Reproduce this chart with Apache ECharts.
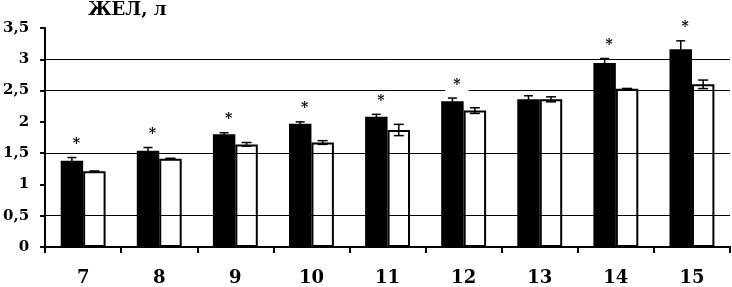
<!DOCTYPE html>
<html>
<head>
<meta charset="utf-8">
<script src="https://cdn.jsdelivr.net/npm/echarts@6/dist/echarts.min.js"></script>
<style>
  html, body { margin: 0; padding: 0; background: #fff; }
  #chart { width: 732px; height: 287px; }
</style>
</head>
<body>
<div id="chart"></div>
<script>
// age groups, years
var ages = ['7', '8', '9', '10', '11', '12', '13', '14', '15']
// black bars and their errors
var darkMean = [1.38, 1.54, 1.80, 1.97, 2.08, 2.33, 2.36, 2.94, 3.16]
var darkErr = [0.05, 0.05, 0.026, 0.03, 0.04, 0.05, 0.057, 0.073, 0.135]
// white bars and their errors
var lightMean = [1.21, 1.41, 1.64, 1.67, 1.87, 2.18, 2.36, 2.53, 2.60]
var lightErr = [0.004, 0.008, 0.03, 0.03, 0.09, 0.045, 0.04, 0.004, 0.068]
// significant difference marks
var signif = [1, 1, 1, 1, 1, 1, 0, 1, 1]
// horizontal reference lines drawn in the source
var refLines = [0.5, 1.5, 2.5, 3]

var BAR_SHARE = 0.295

var chart = echarts.init(document.getElementById('chart'))

var errData = ages.map(function (a, i) {
  return [i, darkMean[i], darkErr[i], lightMean[i], lightErr[i], signif[i]]
})

function errorBar (x, y0, y1, cap, children) {
  var st = { stroke: '#000', lineWidth: 1.5 }
  children.push({ type: 'line', shape: { x1: x, y1: y0, x2: x, y2: y1 }, style: st })
  children.push({ type: 'line', shape: { x1: x - cap, y1: y0, x2: x + cap, y2: y0 }, style: st })
  children.push({ type: 'line', shape: { x1: x - cap, y1: y1, x2: x + cap, y2: y1 }, style: st })
}

function renderErr (params, api) {
  var i = api.value(0)
  var band = api.size([1, 0])[0]
  var bw = band * BAR_SHARE
  var c = api.coord([i, 0])[0]
  var xd = c - bw / 2
  var xl = c + bw / 2
  var kids = []
  var dTop = api.coord([i, api.value(1) + api.value(2)])[1]
  var dBot = api.coord([i, api.value(1) - api.value(2)])[1]
  errorBar(xd, dTop, dBot, 4.5, kids)
  var lTop = api.coord([i, api.value(3) + api.value(4)])[1]
  var lBot = api.coord([i, api.value(3) - api.value(4)])[1]
  errorBar(xl, lTop, lBot, 5, kids)
  if (api.value(5)) {
    kids.push({
      type: 'text',
      x: xd + 4.5,
      y: dTop - 13,
      style: {
        text: '*',
        align: 'center',
        verticalAlign: 'middle',
        font: 'bold 14px "DejaVu Serif"',
        lineHeight: 14,
        fill: '#000',
        backgroundColor: '#fff',
        padding: [0, 8, 0, 8]
      }
    })
  }
  return { type: 'group', children: kids }
}

var option = {
  animation: false,
  backgroundColor: '#fff',
  title: {
    text: 'ЖЕЛ, л',
    left: 88,
    top: 1,
    padding: 0,
    textStyle: {
      fontFamily: 'DejaVu Serif',
      fontWeight: 'bold',
      fontSize: 18,
      color: '#000'
    }
  },
  grid: {
    left: 43,
    right: 2,
    top: 28,
    bottom: 35,
    containLabel: false
  },
  xAxis: {
    type: 'category',
    data: ages,
    boundaryGap: true,
    axisLine: { lineStyle: { color: '#000', width: 2 } },
    axisTick: { show: true, length: 6, lineStyle: { color: '#000', width: 2 } },
    axisLabel: {
      margin: 22,
      color: '#000',
      fontFamily: 'DejaVu Serif',
      fontWeight: 'bold',
      fontSize: 18
    },
    splitLine: { show: false }
  },
  yAxis: {
    type: 'value',
    min: 0,
    max: 3.5,
    interval: 0.5,
    axisLine: { show: true, lineStyle: { color: '#000', width: 2 } },
    axisTick: { show: true, length: 5, lineStyle: { color: '#000', width: 2 } },
    axisLabel: {
      margin: 16,
      color: '#000',
      fontFamily: 'DejaVu Serif',
      fontWeight: 'bold',
      fontSize: 15,
      formatter: function (v) { return String(v).replace('.', ',') }
    },
    splitLine: { show: false }
  },
  series: [
    {
      type: 'line',
      data: [],
      z: 1,
      silent: true,
      markLine: {
        silent: true,
        symbol: ['none', 'none'],
        label: { show: false },
        lineStyle: { color: '#000', width: 1, type: 'solid' },
        data: refLines.map(function (v) { return { yAxis: v } })
      }
    },
    {
      type: 'bar',
      data: darkMean,
      barWidth: (BAR_SHARE * 100) + '%',
      barGap: '0%',
      z: 3,
      itemStyle: { color: '#000' }
    },
    {
      type: 'bar',
      data: lightMean,
      barWidth: (BAR_SHARE * 100) + '%',
      barGap: '0%',
      z: 3,
      itemStyle: { color: '#fff', borderColor: '#000', borderWidth: 2 }
    },
    {
      type: 'custom',
      data: errData,
      z: 5,
      silent: true,
      renderItem: renderErr
    }
  ]
}

chart.setOption(option)
</script>
</body>
</html>
